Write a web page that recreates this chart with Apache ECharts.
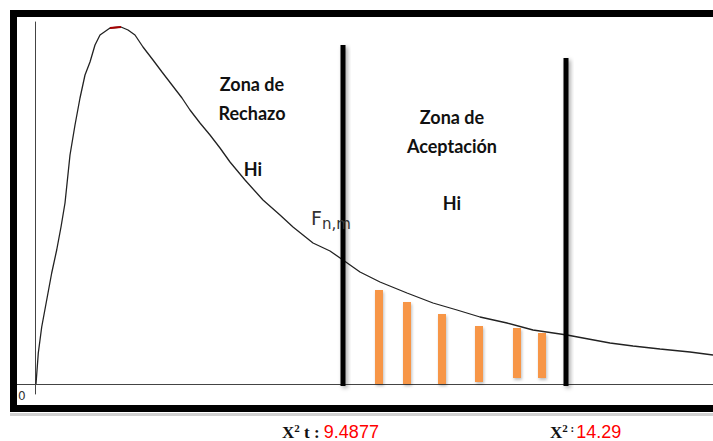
<!DOCTYPE html>
<html>
<head>
<meta charset="utf-8">
<script src="https://cdn.jsdelivr.net/npm/echarts@6/dist/echarts.min.js"></script>
<style>
html,body{margin:0;padding:0;background:#fff;}
#chart{width:713px;height:441px;}
</style>
</head>
<body>
<div id="chart"></div>
<script>
// Density curve (x, y)
const curveX = [0.1,0.33,0.67,1.17,1.67,2.17,2.6,3.0,3.5,4.0,4.5,5.0,5.5,6.0,6.5,7.5,8.6,9.3,10.0,10.8,11.8,12.7,13.7,14.7,15.5,16.5,17.5,18.5,19.5,21.0,22.8,24.5,25.8,27.8,29.5,30.8,32.5,34.5,37.2,39.8,42.2,44.5,47.2,49.8,53.2,54.8,57.5,59.8,62.5,65.5,67.8];
const curveY = [0,3.1,5.7,8.4,11.1,13.4,15.7,18.1,22.9,25.9,28.6,30.9,32.2,33.9,34.9,35.6,35.7,35.4,34.9,33.7,32.4,31.2,29.9,28.6,27.4,26.1,24.9,23.6,22.2,20.4,18.4,16.9,15.7,14.1,13.3,12.4,11.2,10.2,9.1,8.1,7.4,6.7,6.1,5.4,4.9,4.6,4.1,3.8,3.5,3.2,2.9];

// Critical value lines
const criticalX = [30.8, 53.1];
const criticalTop = [33.9, 32.6];

// Observed frequency bars: position, base, top
const barX = [34.4, 37.2, 40.7, 44.4, 48.2, 50.7];
const barLow = [0, 0, 0, 0.2, 0.6, 0.6];
const barHigh = [9.4, 8.2, 7.0, 5.8, 5.6, 5.1];

// Text
const leftZone = ['Zona de', 'Rechazo'];
const rightZone = ['Zona de', 'Aceptación'];
const hiLabel = 'Hi';
const chiTable = '9.4877';
const chiCalc = '14.29';

const chart = echarts.init(document.getElementById('chart'), null, {renderer: 'svg'});

const curveData = curveX.map((x, i) => [x, curveY[i]]);
const peakData = curveData.filter(p => p[0] >= 7.3 && p[0] <= 8.7);

function rectRenderer(width, fill, shadow) {
  return function (params, api) {
    const lo = api.coord([api.value(0), api.value(1)]);
    const hi = api.coord([api.value(0), api.value(2)]);
    return {
      type: 'rect',
      shape: {x: lo[0] - width / 2, y: hi[1], width: width, height: lo[1] - hi[1]},
      style: Object.assign({fill: fill}, shadow)
    };
  };
}

const option = {
  backgroundColor: '#fff',
  animation: false,
  grid: {left: 17, right: 0, top: 22, bottom: 47, containLabel: false},
  xAxis: {
    type: 'value', min: -1.8, max: 67.8,
    axisLine: {show: true, onZero: true, lineStyle: {color: '#444', width: 1}},
    axisTick: {show: false}, axisLabel: {show: false}, splitLine: {show: false}
  },
  yAxis: {
    type: 'value', min: -1.0, max: 36.2,
    axisLine: {show: true, onZero: true, lineStyle: {color: '#444', width: 1}},
    axisTick: {show: false}, axisLabel: {show: false}, splitLine: {show: false}
  },
  series: [
    {
      type: 'line', data: curveData, symbol: 'none', smooth: false, z: 3,
      lineStyle: {color: '#222', width: 1.3}
    },
    {
      type: 'line', data: peakData, symbol: 'none', z: 3,
      lineStyle: {color: '#a80000', width: 2}
    },
    {
      type: 'custom', z: 4, silent: true,
      data: criticalX.map((x, i) => [x, -0.2, criticalTop[i]]),
      renderItem: rectRenderer(5, '#000', {shadowColor: 'rgba(0,0,0,0.35)', shadowBlur: 4, shadowOffsetX: 2, shadowOffsetY: 2})
    },
    {
      type: 'custom', z: 5,
      data: barX.map((x, i) => [x, barLow[i], barHigh[i]]),
      renderItem: rectRenderer(8, '#f79646', {shadowColor: 'rgba(0,0,0,0.25)', shadowBlur: 3, shadowOffsetX: 1, shadowOffsetY: 2})
    }
  ],
  graphic: [
    {
      type: 'rect', z: 10, silent: true,
      shape: {x: 13.5, y: 13.5, width: 710, height: 395},
      style: {fill: 'none', stroke: '#000', lineWidth: 7}
    },
    {
      type: 'rect', z: 9, silent: true,
      shape: {x: 10, y: 413, width: 713, height: 3},
      style: {fill: 'rgba(0,0,0,0.18)'}
    },
    {type: 'text', left: 18, top: 390, z: 11,
      style: {text: '0', font: '12px "DejaVu Sans"', fill: '#333'}},
    {type: 'text', x: 252, y: 84, z: 11,
      style: {text: leftZone[0], font: 'bold 18px Lato', fill: '#111', align: 'center', verticalAlign: 'middle'}},
    {type: 'text', x: 252, y: 113, z: 11,
      style: {text: leftZone[1], font: 'bold 18px Lato', fill: '#111', align: 'center', verticalAlign: 'middle'}},
    {type: 'text', x: 253, y: 169, z: 11,
      style: {text: hiLabel, font: 'bold 18px Lato', fill: '#111', align: 'center', verticalAlign: 'middle'}},
    {type: 'text', x: 452, y: 117, z: 11,
      style: {text: rightZone[0], font: 'bold 18px Lato', fill: '#111', align: 'center', verticalAlign: 'middle'}},
    {type: 'text', x: 452, y: 146, z: 11,
      style: {text: rightZone[1], font: 'bold 18px Lato', fill: '#111', align: 'center', verticalAlign: 'middle'}},
    {type: 'text', x: 452, y: 203, z: 11,
      style: {text: hiLabel, font: 'bold 18px Lato', fill: '#111', align: 'center', verticalAlign: 'middle'}},
    {type: 'text', x: 311, y: 208, z: 11,
      style: {
        text: '{f|F}{s|n,m}',
        rich: {
          f: {font: '19px "DejaVu Sans"', fill: '#333', verticalAlign: 'top', lineHeight: 22},
          s: {font: '15px "DejaVu Sans"', fill: '#333', padding: [9, 0, 0, 0], lineHeight: 22}
        }
      }},
    {type: 'text', x: 282, y: 432, z: 11,
      style: {
        text: '{b|X}{sup|2}{b| t : }{r|' + chiTable + '}',
        verticalAlign: 'middle',
        rich: {
          b: {font: 'bold 17px "Liberation Serif"', fill: '#111'},
          sup: {font: 'bold 11px "Liberation Serif"', fill: '#111', padding: [0, 0, 8, 0]},
          r: {font: '18px "Liberation Sans"', fill: '#ff0000'}
        }
      }},
    {type: 'text', x: 550, y: 432, z: 11,
      style: {
        text: '{b|X}{sup|2 :}{r|' + chiCalc + '}',
        verticalAlign: 'middle',
        rich: {
          b: {font: 'bold 17px "Liberation Serif"', fill: '#111'},
          sup: {font: 'bold 11px "Liberation Serif"', fill: '#111', padding: [0, 2, 8, 0]},
          r: {font: '18px "Liberation Sans"', fill: '#ff0000'}
        }
      }}
  ]
};
chart.setOption(option);
</script>
</body>
</html>
